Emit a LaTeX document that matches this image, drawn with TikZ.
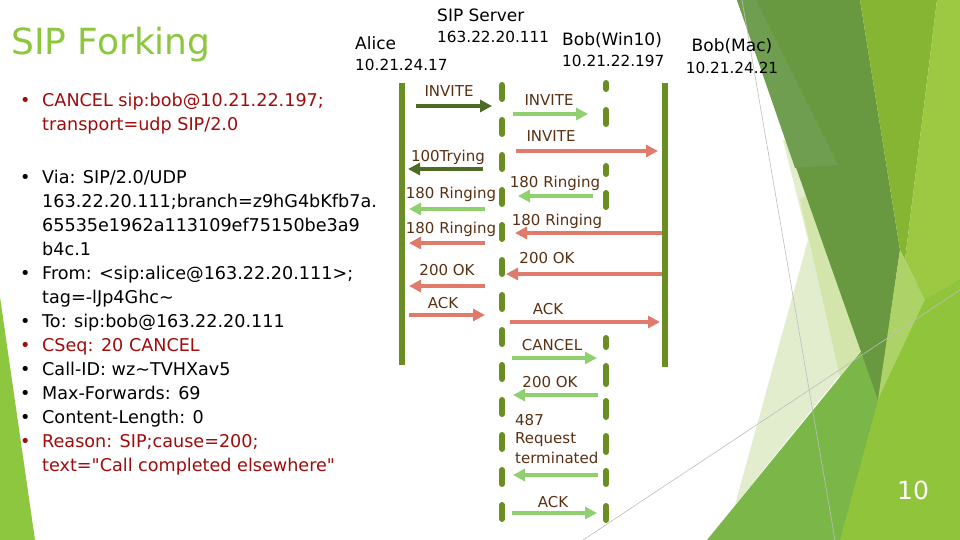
\documentclass[tikz,border=0pt]{standalone}
\usepackage{fontspec}
\setmainfont{DejaVu Sans}[Ligatures=TeXOff]
\usetikzlibrary{arrows.meta}
\definecolor{lifegreen}{RGB}{107,142,35}
\definecolor{dkgreen}{RGB}{78,107,37}
\definecolor{ltgreen}{RGB}{144,208,110}
\definecolor{msgred}{RGB}{224,123,107}
\definecolor{lblbrown}{RGB}{90,48,18}
\definecolor{txtred}{RGB}{160,12,12}
\definecolor{titlegreen}{RGB}{141,198,63}
\definecolor{facetpale}{RGB}{226,237,206}
\definecolor{facetlight}{RGB}{212,229,172}
\definecolor{facetmid}{RGB}{122,182,72}
\definecolor{facetdark}{RGB}{104,152,64}
\definecolor{facetdarkl}{RGB}{112,158,80}
\definecolor{facetcolA}{RGB}{134,181,52}
\definecolor{facetcolB}{RGB}{156,200,66}
\definecolor{facetyg}{RGB}{144,196,58}
\definecolor{facetlg}{RGB}{172,210,104}
\definecolor{thinline}{RGB}{190,190,190}
\newcommand{\sipmsg}[5]{%
  \coordinate (#1a) at (#3,#5);
  \coordinate (#1b) at (#4,#5);
  \draw[#2] (#1a) -- (#1b);}
\begin{document}
\begin{tikzpicture}[x=1pt,y=-1pt,
  msgline/.style={line width=4.5pt,-{Triangle[length=12pt,width=12pt]}},
  mdk/.style={msgline,draw=dkgreen,fill=dkgreen},
  mlt/.style={msgline,draw=ltgreen,fill=ltgreen},
  mrd/.style={msgline,draw=msgred,fill=msgred},
  lbl/.style={font=\fontsize{15}{16}\selectfont,text=lblbrown,inner sep=0pt,anchor=base},
  lblleft/.style={lbl,anchor=base west},
  hdr/.style={font=\fontsize{17}{18}\selectfont,inner sep=0pt,anchor=base west},
  hdrip/.style={font=\fontsize{15.3}{18}\selectfont,inner sep=0pt,anchor=base west},
  hdrc/.style={hdr,anchor=base},
  hdripc/.style={hdrip,anchor=base},
  body/.style={font=\fontsize{17.6}{24}\selectfont,inner sep=0pt,anchor=base west},
  bodyred/.style={body,text=txtred},
  life/.style={line width=6pt,draw=lifegreen},
]
\useasboundingbox (0,0) rectangle (960,540);
\fill[white] (0,0) rectangle (960,540);

% background facets
\fill[titlegreen] (0,297) -- (35,540) -- (0,540) -- cycle;
\fill[facetpale] (783,140) -- (808,240) -- (735,505) -- (900,300) -- (860,150) -- cycle;
\fill[facetlight] (800,200) -- (840,377) -- (900,300) -- (860,150) -- cycle;
\fill[facetmid] (707,540) -- (960,230) -- (960,540) -- cycle;
\fill[facetdark] (737,0) -- (860,0) -- (900,250) -- (878,400) -- cycle;
\fill[facetdarkl] (737,0) -- (756,0) -- (838,165) -- (795,168) -- cycle;
\fill[facetcolA] (860,0) -- (937,0) -- (905,260) -- (900,250) -- cycle;
\fill[facetcolB] (937,0) -- (960,0) -- (960,280) -- (925,300) -- (905,260) -- cycle;
\fill[facetlg] (900,250) -- (905,260) -- (925,300) -- (878,400) -- cycle;
\fill[facetyg] (840,540) -- (878,400) -- (925,300) -- (960,280) -- (960,540) -- cycle;
\draw[thinline,line width=0.6pt] (742,0) -- (835,540);
\draw[thinline,line width=0.6pt] (583,540) -- (960,290);

% title and text
\node[anchor=base west,font=\fontsize{36}{40}\selectfont,text=titlegreen,inner sep=0pt] (title) at (11,55) {SIP Forking};

\node[bodyred] (b1) at (20,107) {•};
\node[bodyred] (t1) at (42,107) {CANCEL sip:bob@10.21.22.197;};
\node[bodyred] (t2) at (42,131) {transport=udp SIP/2.0};
\node[body] (b3) at (20,183) {•};
\node[body] (t3) at (42,183) {Via: SIP/2.0/UDP};
\node[body] (t4) at (42,207) {163.22.20.111;branch=z9hG4bKfb7a.};
\node[body] (t5) at (42,231) {65535e1962a113109ef75150be3a9};
\node[body] (t6) at (42,255) {b4c.1};
\node[body] (b7) at (20,279) {•};
\node[body] (t7) at (42,279) {From: <sip:alice@163.22.20.111>;};
\node[body] (t8) at (42,303) {tag=-lJp4Ghc\textasciitilde};
\node[body] (b9) at (20,327) {•};
\node[body] (t9) at (42,327) {To: sip:bob@163.22.20.111};
\node[bodyred] (b10) at (20,351) {•};
\node[bodyred] (t10) at (42,351) {CSeq: 20 CANCEL};
\node[body] (b11) at (20,375) {•};
\node[body] (t11) at (42,375) {Call-ID: wz\textasciitilde{}TVHXav5};
\node[body] (b12) at (20,399) {•};
\node[body] (t12) at (42,399) {Max-Forwards: 69};
\node[body] (b13) at (20,423) {•};
\node[body] (t13) at (42,423) {Content-Length: 0};
\node[bodyred] (b14) at (20,447) {•};
\node[bodyred] (t14) at (42,447) {Reason: SIP;cause=200;};
\node[bodyred] (t15) at (42,471) {text="Call completed elsewhere"};

% headers
\node[hdr] (alice) at (355,50) {Alice};
\node[hdrip] (aliceip) at (355,71) {10.21.24.17};
\node[hdr] (srv) at (437,22) {SIP Server};
\node[hdrip] (srvip) at (437,43) {163.22.20.111};
\node[hdr] (win) at (562,46) {Bob(Win10)};
\node[hdrip] (winip) at (562,67) {10.21.22.197};
\node[hdrc] (mac) at (732,52) {Bob(Mac)};
\node[hdripc] (macip) at (732,74) {10.21.24.21};

% lifelines
\coordinate (alicetop) at (402,83);
\coordinate (alicebot) at (402,365);
\draw[life] (alicetop) -- (alicebot);
\coordinate (srvtop) at (502,85);
\coordinate (srvbot) at (502,519);
\draw[life,line cap=round,dash pattern=on 14pt off 21pt] (srvtop) -- (srvbot);
\coordinate (mactop) at (665,83);
\coordinate (macbot) at (665,367);
\draw[life] (mactop) -- (macbot);
\draw[life,line cap=round]
  (606,83) -- (606,89)
  (606,110) -- (606,124)
  (606,166) -- (606,174)
  (606,193) -- (606,207)
  (606,338) -- (606,347)
  (606,366) -- (606,384)
  (606,401) -- (606,417)
  (606,436) -- (606,452)
  (606,471) -- (606,484)
  (606,506) -- (606,520);

% messages
\sipmsg{m1}{mdk}{416}{492}{106}
\node[lbl] (l1) at (449,97) {INVITE};
\sipmsg{m2}{mlt}{513}{588}{114}
\node[lbl] (l2) at (549,106) {INVITE};
\sipmsg{m3}{mrd}{516}{658}{151}
\node[lbl] (l3) at (551,142) {INVITE};
\sipmsg{m4}{mdk}{483}{408}{169}
\node[lbl] (l4) at (448,162) {100Trying};
\sipmsg{m5}{mlt}{593}{518}{196}
\node[lbl] (l5) at (555,187) {180 Ringing};
\sipmsg{m6}{mlt}{485}{409}{209}
\node[lbl] (l6) at (451,198) {180 Ringing};
\sipmsg{m7}{mrd}{662}{515}{233}
\node[lbl] (l7) at (557,225) {180 Ringing};
\sipmsg{m8}{mrd}{485}{409}{243}
\node[lbl] (l8) at (451,233) {180 Ringing};
\sipmsg{m9}{mrd}{662}{506}{274}
\node[lbl] (l9) at (547,263) {200 OK};
\sipmsg{m10}{mrd}{485}{409}{286}
\node[lbl] (l10) at (447,275) {200 OK};
\sipmsg{m11}{mrd}{409}{485}{315}
\node[lbl] (l11) at (443,308) {ACK};
\sipmsg{m12}{mrd}{510}{660}{322}
\node[lbl] (l12) at (548,314) {ACK};
\sipmsg{m13}{mlt}{512}{597}{358}
\node[lbl] (l13) at (552,350) {CANCEL};
\sipmsg{m14}{mlt}{598}{513}{395}
\node[lbl] (l14) at (550,387) {200 OK};
\sipmsg{m15}{mlt}{598}{513}{475}
\node[lblleft] (l15a) at (515,425) {487};
\node[lblleft] (l15b) at (515,443) {Request};
\node[lblleft] (l15c) at (515,463) {terminated};
\sipmsg{m16}{mlt}{512}{597}{513}
\node[lbl] (l16) at (553,507) {ACK};

% page number
\node[font=\fontsize{25}{28}\selectfont,text=white,inner sep=0pt] (pgnum) at (913,490) {10};
\end{tikzpicture}
\end{document}
